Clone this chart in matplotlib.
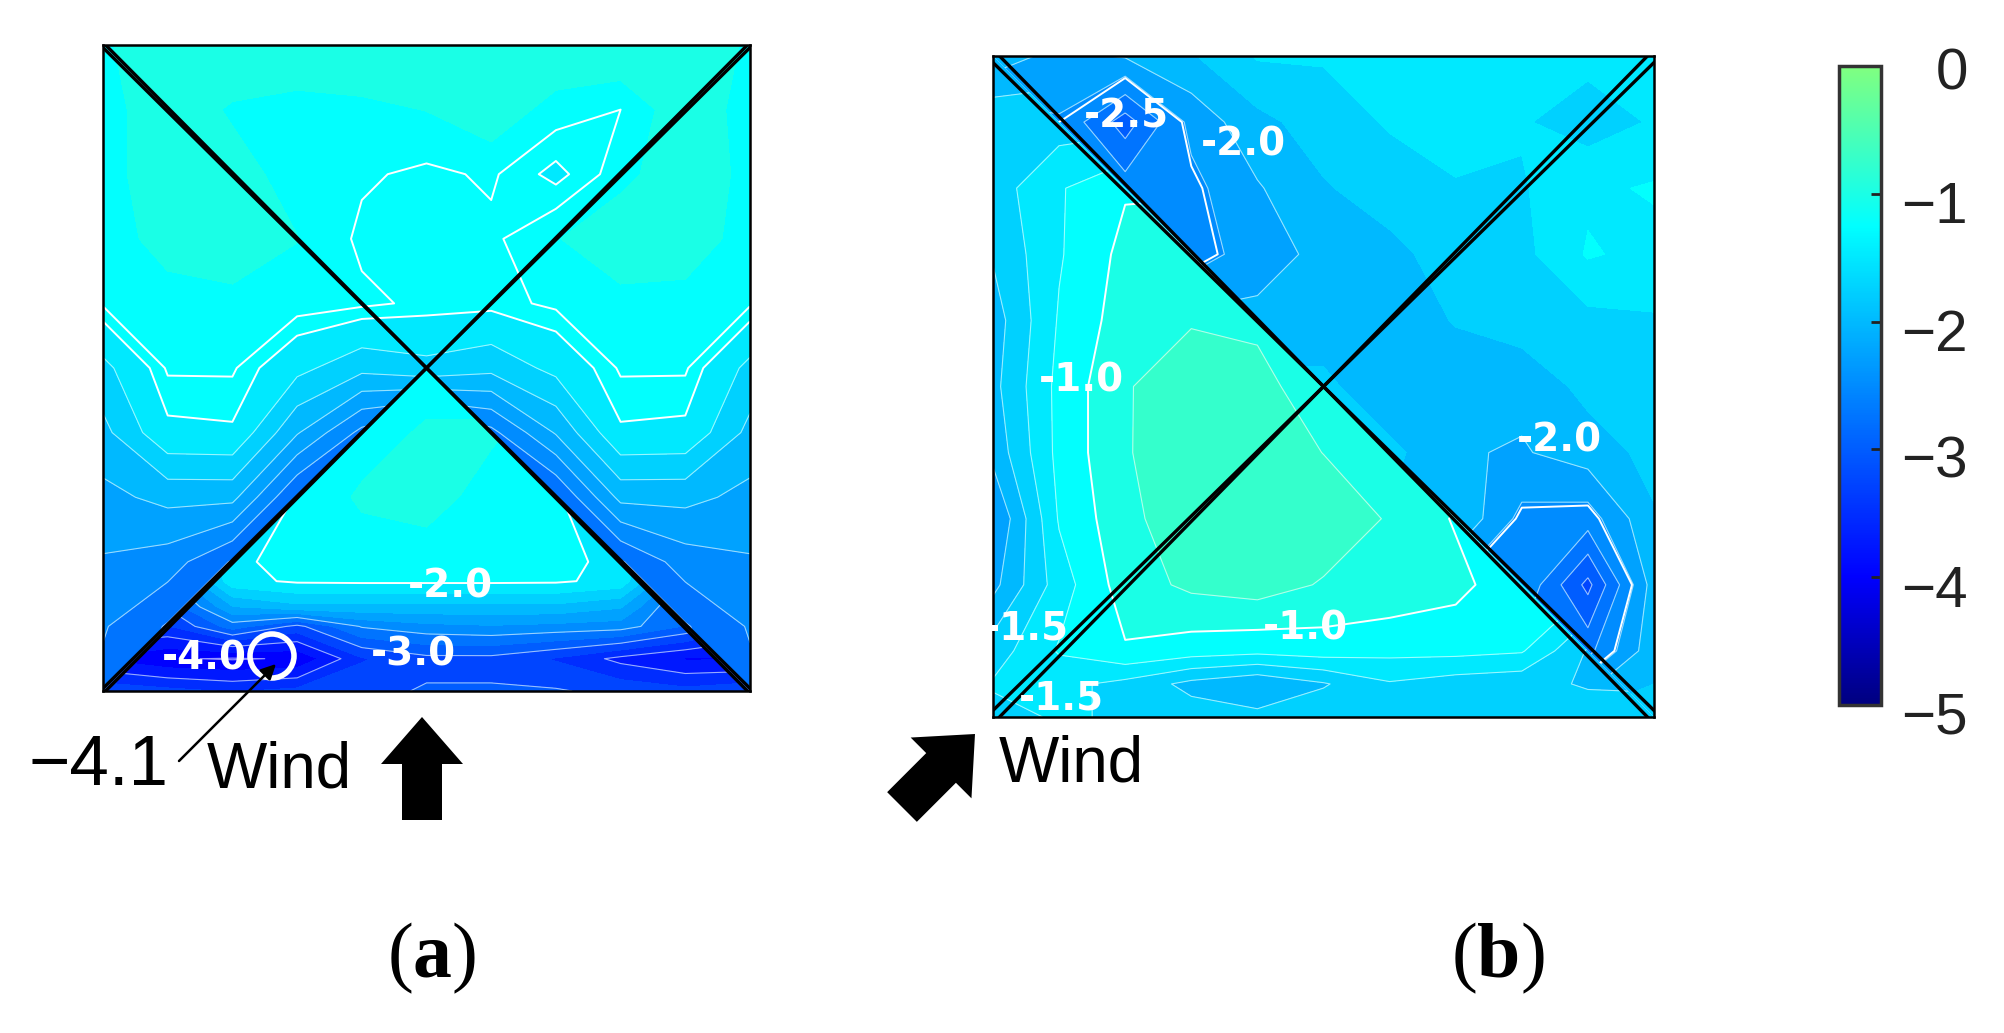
import numpy as np
import matplotlib
matplotlib.use('Agg')
import matplotlib.pyplot as plt
from matplotlib.colors import LinearSegmentedColormap, Normalize
from matplotlib.cm import ScalarMappable
from matplotlib.patches import Polygon, Circle, FancyArrow

W, H = 2004, 1033

# pressure coefficient, rows go from top to bottom
cols = [0, .1, .2, .3, .4, .5, .6, .7, .8, .9, 1]
rows = [0, .1, .2, .3, .4, .5, .6, .7, .8, .9, 1]
rows_low = [.5, .6, .7, .8, .83, .87, .9, .95, 1]
rows_ll = [0, .1, .2, .3, .4, .5, .6, .7, .8, .9, .95, 1]

# (a) left, top and right roof faces
a_upper = [
    [-1.15, -1.0, -.95, -.95, -.95, -.95, -.95, -.95, -.95, -1.0, -1.15],
    [-1.2, -1.0, -1.15, -1.2, -1.17, -1.12, -1.0, -1.2, -1.27, -1.0, -1.2],
    [-1.2, -1.0, -1.05, -1.2, -1.25, -1.3, -1.25, -1.42, -1.2, -.95, -1.2],
    [-1.22, -1.05, -.95, -1.12, -1.3, -1.33, -1.3, -1.14, -.95, -1.0, -1.22],
    [-1.25, -1.2, -1.2, -1.2, -1.24, -1.3, -1.32, -1.24, -1.2, -1.2, -1.25],
    [-1.7, -1.25, -1.25, -1.55, -1.8, -1.7, -1.8, -1.55, -1.25, -1.25, -1.7],
    [-1.95, -1.42, -1.4, -2.1, -2.7, -3.0, -2.7, -2.1, -1.4, -1.42, -1.95],
    [-2.2, -2.05, -2.05, -2.9, -3.1, -3.1, -3.1, -2.9, -2.05, -2.05, -2.2],
    [-2.4, -2.5, -2.9, -3.1, -3.1, -3.1, -3.1, -3.1, -2.9, -2.5, -2.4],
    [-2.6, -2.9, -3.0, -3.0, -3.0, -3.0, -3.0, -3.0, -3.0, -2.9, -2.6],
    [-2.7, -3.0, -3.0, -3.0, -3.0, -3.0, -3.0, -3.0, -3.0, -3.0, -2.7],
]
# (a) windward face
a_lower = [
    [-1.3, -1.3, -1.3, -1.3, -1.3, -1.3, -1.3, -1.3, -1.3, -1.3, -1.3],
    [-1.5, -1.5, -1.45, -1.35, -1.27, -1.08, -1.08, -1.3, -1.45, -1.5, -1.5],
    [-1.9, -1.9, -1.8, -1.35, -1.08, -1.0, -1.25, -1.33, -1.8, -1.9, -1.9],
    [-2.5, -2.5, -1.42, -1.3, -1.27, -1.27, -1.3, -1.33, -1.42, -2.5, -2.5],
    [-2.7, -2.7, -1.45, -1.34, -1.33, -1.33, -1.33, -1.34, -1.45, -2.7, -2.7],
    [-3.1, -3.1, -2.15, -1.95, -1.95, -1.95, -1.95, -1.95, -2.1, -3.0, -3.1],
    [-3.4, -3.4, -2.75, -3.2, -2.6, -2.45, -2.4, -2.45, -2.5, -2.9, -3.4],
    [-3.9, -4.1, -4.15, -4.1, -3.4, -3.2, -3.2, -3.4, -3.7, -3.9, -3.9],
    [-3.2, -3.3, -3.4, -3.3, -3.2, -3.1, -3.1, -3.1, -3.2, -3.3, -3.2],
]
# (b) top and right faces
b_upper = [
    [-2.0, -2.2, -2.1, -1.9, -1.6, -1.6, -1.5, -1.45, -1.4, -1.55, -1.6],
    [-2.5, -2.4, -3.0, -2.3, -1.95, -1.75, -1.6, -1.5, -1.6, -1.75, -1.6],
    [-2.5, -2.5, -2.5, -2.45, -2.15, -1.9, -1.75, -1.65, -1.65, -1.42, -1.35],
    [-2.5, -2.5, -2.5, -2.5, -2.25, -2.05, -1.95, -1.75, -1.7, -1.35, -1.45],
    [-2.05, -2.05, -2.05, -2.05, -2.05, -2.05, -2.1, -1.85, -1.75, -1.7, -1.65],
    [-1.8, -1.8, -1.8, -1.8, -1.8, -1.8, -2.1, -2.1, -2.05, -1.8, -1.7],
    [-1.8, -1.8, -1.8, -1.8, -1.8, -1.8, -1.8, -2.1, -2.15, -2.0, -1.8],
    [-1.9, -1.9, -1.9, -1.9, -1.9, -1.9, -1.9, -1.9, -2.45, -2.5, -1.9],
    [-2.4, -2.4, -2.4, -2.4, -2.4, -2.4, -2.4, -2.4, -2.4, -3.2, -2.0],
    [-2.7, -2.7, -2.7, -2.7, -2.7, -2.7, -2.7, -2.7, -2.7, -2.7, -1.95],
    [-1.8, -1.8, -1.8, -1.8, -1.8, -1.8, -1.8, -1.8, -1.8, -1.8, -1.8],
]
# (b) left and bottom faces
b_lower = [
    [-2.0, -2.0, -2.0, -2.0, -2.0, -2.0, -2.0, -2.0, -2.0, -2.0, -2.0],
    [-1.8, -1.75, -1.75, -1.75, -1.75, -1.75, -1.75, -1.75, -1.75, -1.75, -1.75],
    [-1.75, -1.4, -1.15, -1.15, -1.15, -1.15, -1.15, -1.15, -1.15, -1.15, -1.15],
    [-1.85, -1.4, -1.05, -1.0, -1.0, -1.0, -1.0, -1.0, -1.0, -1.0, -1.0],
    [-2.0, -1.35, -1.0, -.9, -.95, -.95, -.95, -.95, -.95, -.95, -.95],
    [-1.95, -1.3, -.9, -.7, -.75, -1.1, -1.1, -1.1, -1.1, -1.1, -1.1],
    [-2.05, -1.3, -.9, -.68, -.7, -.88, -.95, -.95, -.95, -.95, -.95],
    [-2.4, -1.35, -.95, -.7, -.68, -.7, -.9, -1.15, -1.15, -1.15, -1.15],
    [-2.2, -1.5, -1.0, -.82, -.75, -.9, -.95, -1.05, -1.3, -1.3, -1.3],
    [-1.75, -1.35, -1.15, -1.25, -1.3, -1.25, -1.3, -1.3, -1.35, -1.9, -1.9],
    [-1.6, -1.55, -1.7, -1.95, -2.1, -1.9, -1.65, -1.75, -1.8, -1.9, -1.9],
    [-1.7, -1.6, -1.65, -1.75, -1.8, -1.7, -1.65, -1.7, -1.7, -1.75, -1.8],
]

bar_ticks = [-1, -2, -3, -4]
bar_labels = ['0', '\u22121', '\u22122', '\u22123', '\u22124', '\u22125']

# colour scale of the picture
cmap = LinearSegmentedColormap.from_list('cp', [
    (0.0, '#00007f'), (0.2, '#0000ff'), (0.75, '#00ffff'), (1.0, '#80ff80')])
norm = Normalize(-5, 0)
bands = np.arange(-5.125, 0.2, 0.25)

plt.rcParams['font.family'] = 'Liberation Sans'
plt.rcParams['mathtext.fontset'] = 'custom'
plt.rcParams['mathtext.bf'] = 'Liberation Serif:bold'
plt.rcParams['mathtext.rm'] = 'Liberation Serif'
plt.rcParams['contour.negative_linestyle'] = 'solid'

fig = plt.figure(figsize=(W / 100, H / 100), dpi=100)


def px_axes(l, t, r, b):
    return fig.add_axes([l / W, 1 - b / H, (r - l) / W, (b - t) / H])


def face(ax, ys, z, clip, lines, strong):
    # one part of the roof, cut to its own triangle(s)
    poly = Polygon(clip, transform=ax.transData)
    cf = ax.contourf(cols, ys, z, levels=bands, cmap=cmap, norm=norm)
    cf.set_clip_path(poly)
    thin = ax.contour(cols, ys, z, levels=lines, colors='white', linewidths=0.8, alpha=0.6)
    thin.set_clip_path(poly)
    bright = ax.contour(cols, ys, z, levels=strong, colors='white', linewidths=1.4)
    bright.set_clip_path(poly)


def roof(ax, w):
    # w is the small gap between the two lines of a ridge near its corner
    for x0, y0 in [(0, 0), (1, 1), (0, 1), (1, 0)]:
        dy = -w if x0 == y0 else w
        for s in (-1, 1):
            ax.plot([x0 + s * w, .5], [y0 + s * dy, .5], color='black', lw=2.4,
                    solid_capstyle='butt')
    ax.set_xlim(0, 1)
    ax.set_ylim(1, 0)
    ax.set_xticks([])
    ax.set_yticks([])
    for s in ax.spines.values():
        s.set_linewidth(1.8)


ax_a = px_axes(103, 45, 750, 691)
face(ax_a, rows, a_upper, [(0, 0), (1, 0), (1, 1), (.5, .5), (0, 1)],
     [-3.125, -2.875, -2.625, -2.375, -2.125, -1.875, -1.625], [-1.375, -1.27])
face(ax_a, rows_low, a_lower, [(0, 1), (.5, .5), (1, 1)],
     [-4.125, -3.625, -3.125, -2.625], [-1.375])
roof(ax_a, 0.002)

ax_b = px_axes(993, 56, 1654, 717)
face(ax_b, rows, b_upper, [(0, 0), (1, 0), (1, 1)],
     [-3.125, -2.875, -2.625, -2.375, -2.125], [-2.4])
face(ax_b, rows_ll, b_lower, [(0, 0), (1, 1), (0, 1)],
     [-2.125, -1.875, -1.625, -1.375, -.875], [-1.125])
roof(ax_b, 0.005)

cax = px_axes(1839, 66, 1881, 705)
cb = fig.colorbar(ScalarMappable(norm=norm, cmap=cmap), cax=cax)
cb.set_ticks(bar_ticks)
cb.set_ticklabels([])
cax.tick_params(direction='in', length=7, width=2, color='#222222')
cb.outline.set_linewidth(2.5)
cb.outline.set_edgecolor('#333333')

# everything written over the picture, in pixels
ov = fig.add_axes([0, 0, 1, 1])
ov.set_xlim(0, W)
ov.set_ylim(H, 0)
ov.axis('off')
ov.patch.set_alpha(0)

white_labels = [('-2.0', 450, 587), ('-3.0', 413, 654), ('-4.0', 204, 658),
                ('-2.5', 1126, 116), ('-2.0', 1243, 144), ('-1.0', 1081, 380),
                ('-2.0', 1559, 440), ('-1.5', 1026, 628), ('-1.0', 1305, 628),
                ('-1.5', 1061, 698)]
for s, x, y in white_labels:
    ov.text(x, y, s, color='white', fontsize=28, fontweight='bold', family='DejaVu Sans',
            ha='center', va='center')

ov.add_patch(Circle((272, 656), 22, fill=False, ec='white', lw=4))
ov.annotate('', xy=(276, 664), xytext=(179, 761),
            arrowprops=dict(arrowstyle='-|>,head_width=0.45,head_length=0.9', color='black', lw=1.8,
                            shrinkA=0, shrinkB=0))

ov.text(99, 767, '\u22124.1', fontsize=51, ha='center', va='center')
ov.text(279, 771, 'Wind', fontsize=46, ha='center', va='center')
ov.text(1071, 764, 'Wind', fontsize=46, ha='center', va='center')
ov.add_patch(FancyArrow(422, 820, 0, -103, width=40, head_width=82, head_length=47,
                        length_includes_head=True, color='black', lw=0))
ov.add_patch(FancyArrow(902, 807, 73, -73, width=42, head_width=86, head_length=48,
                        length_includes_head=True, color='black', lw=0))

bar_label_y = [74, 208, 336, 463, 592, 719]
for s, y in zip(bar_labels, bar_label_y):
    ov.text(1968, y, s, fontsize=42, ha='right', va='center', color='#222222')

for s, x in [('a', 432), ('b', 1498)]:
    ov.text(x, 958, '(' + '$\\mathbf{' + s + '}$' + ')', fontsize=56, family='Liberation Serif',
            ha='center', va='center')

fig.savefig('out.png', dpi=100)
